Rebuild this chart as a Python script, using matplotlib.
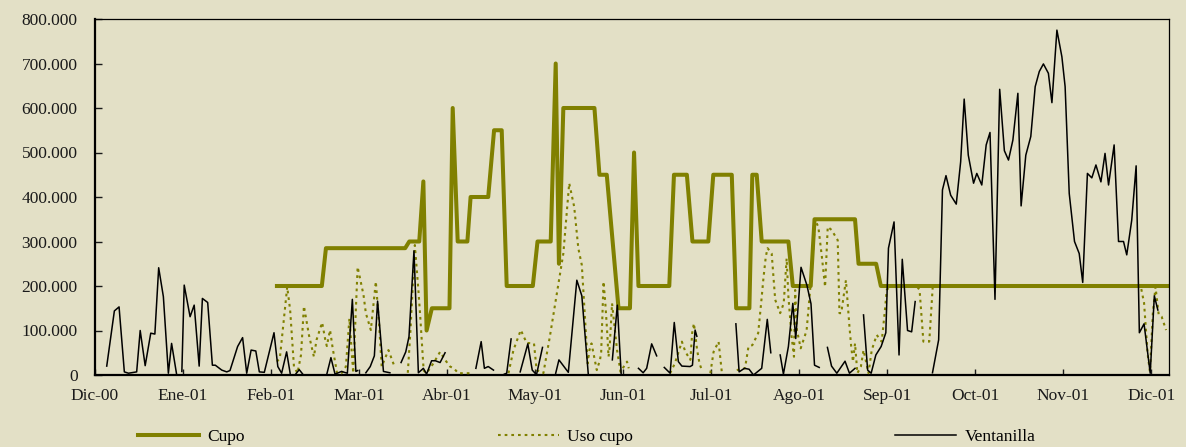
import numpy as np
import matplotlib
matplotlib.use("Agg")
import matplotlib.pyplot as plt
from matplotlib.ticker import FuncFormatter

# x = day index on the category axis (Dic-00 = 0), values in thousands
month_labels = ["Dic-00", "Ene-01", "Feb-01", "Mar-01", "Abr-01", "May-01", "Jun-01",
                "Jul-01", "Ago-01", "Sep-01", "Oct-01", "Nov-01", "Dic-01"]
month_pos = [0, 30, 60, 90, 120, 150, 180, 210, 240, 270, 300, 330, 360]

cupo_x = [62, 77.3, 78.7, 105.7, 107.1, 110.5, 111.9, 113, 114.8, 120.8, 121.9, 123.6, 126.9,
          128, 134, 136, 138.6, 140.3, 149.2, 150.8, 155.3, 157, 158.1, 159.6, 170.2, 171.9,
          174.4, 178.4, 182.3, 183.7, 185.2, 195.7, 197.3, 201.7, 203.6, 209, 210.7, 217,
          218.5, 223, 224, 225.5, 227.2, 236.3, 237.8, 243.9, 245.2, 259, 260.2, 266.2, 267.8, 366]
cupo_y = [200, 200, 285, 285, 300, 300, 435, 100, 150, 150, 600, 300, 300,
          400, 400, 550, 550, 200, 200, 300, 300, 700, 250, 600, 600, 450,
          450, 150, 150, 500, 200, 200, 450, 450, 300, 300, 450, 450,
          150, 150, 450, 450, 300, 300, 200, 200, 350, 350, 250, 250, 200, 200]

uso_x = [62, 63, 65.5, 66.5, 67.8, 69, 70.2, 71.2, 72, 72.9, 74.6, 75.5, 77.4, 78.4, 79, 80.1,
         81, 82.5, 84, 85.5, 86.7, 88, 89.5, 91.5, 92.3, 94, 95.7, 96.8, 97.7, 100, 102, None,
         106.6, 107.5, 109, 110.2, 110.8, 112, 113, 115.3, 117.6, 119.3, 121, 122.3, 123.8, 127.8, None,
         140.9, 142.6, 145.1, 147.1, 149.6, 150.5, 152.8, 155, 157.4, 159.6, 161.6, 163.3, 164.7,
         165.9, 167.1, 167.9, 168.5, 169.2, 171, 172.1, 172.5, 173.3, 173.9, 174.5, 175, 175.4,
         176.2, 177.9, 179.1, 180.5, 181.3, 181.9, None,
         196, 197.6, 200, 201.2, 202.9, 203.5, 204.1, 205.2, 206, 206.8, None,
         209.7, 210.8, 212.5, 213.6, None,
         218.7, 221.5, 222.7, 224, 226, 227, 227.8, 228.6, 229.2, 230.6, 231.8, 233.5, 234.7,
         235.7, 236.3, 237.4, 238.2, 238.6, 239.2, 240.5, 242.5, 244.3, 244.8, 245.4, 246.5,
         247.7, 248.8, 249.7, 251, 253.1, 253.7, 254.3, 255.9, 257.1, 257.7, 258.3, 259, 259.8,
         261, 261.9, 263.6, 264.7, 266.4, 268.1, 269.3, 269.8, 271, 280, 281, 282.3, 284.3,
         285.5, 355, 356.5, 357.5, 358.7, 359.5, 360.5, 361.4, 362.5, 363.5, 365]
uso_y = [30, 38, 198, 146, 19, 4, 45, 155, 124, 90, 41, 79, 118, 82, 65, 101,
         60, 4, 4, 19, 127, 4, 243, 180, 139, 101, 210, 116, 19, 56, 20, None,
         5, 100, 292, 191, 135, 10, 4, 26, 52, 34, 19, 15, 4, 4, None,
         4, 56, 101, 72, 71, 11, 4, 86, 184, 273, 431, 378, 285,
         247, 112, 26, 56, 71, 11, 34, 52, 210, 162, 101, 41, 64,
         161, 56, 7, 22, 30, 15, None,
         4, 26, 75, 52, 34, 94, 116, 56, 26, 11, None,
         4, 52, 75, 7, None,
         11, 15, 64, 67, 94, 161, 218, 266, 285, 273, 169, 139, 161,
         262, 176, 86, 41, 191, 101, 60, 100, 236, 288, 348, 333,
         266, 198, 333, 326, 303, 139, 139, 213, 109, 64, 30, 71, 4,
         19, 56, 4, 56, 90, 75, 153, 191, 200, 200, 191, 75, 75,
         200, 200, 195, 162, 49, 7, 139, 198, 135, 131, 101]

vent_x = [4, 6.6, 8.2, 10, 11.4, 14.2, 15.4, 17.1, 19, 20.4, 21.7, 23.3, 25, 26.1, 27.8, None,
          29.6, 30.4, 32.4, 33.8, 35.5, 36.6, 38.4, 40, 41, 43.2, 44.9, 46, 48.6, 50.3, 51.7,
          53.2, 54.8, 56, 57.7, 61, 62.3, 63.6, 65.3, 66.5, None,
          68.5, 69.6, 70.8, None,
          79, 80.4, 81.8, 84, 86, 87.7, 88.9, 89.5, None,
          92.3, 93.8, 95.2, 96.3, 98.3, 100.5, None,
          104.3, 105.9, 107, 108.7, 110.2, 111.9, 113, 114.7, 116, 117.6, 119.3, None,
          129.8, 131.6, 132.7, 134, 135.8, None,
          139.5, 140.3, 141.8, None,
          144.9, 147.5, 149, 150, None,
          150.5, 152.5, None,
          157, 158.1, 161.3, 164.2, 165.9, 168.1, None,
          176.3, 178, 179.3, None,
          185.2, 186.8, 188, 189.7, 191.4, None,
          194, 196, 197.4, 198.8, 200, 202.8, 203.6, 204.5, 205.1, None,
          218.4, 219.5, 221.3, 222.9, 224.4, 227.2, 229.1, 230.3, None,
          233.5, 234.6, 236.3, 237.8, 238.8, 240.6, 242.6, 244, 245.2, 246.8, None,
          249.6, 251, 252.8, 255.6, 257.1, 259, None,
          261.9, 263.3, 264.5, 266.1, 267.9, 269.5, 270.4, 272.3, 274, 275.1, 276.9, 278.3, 279.5, None,
          285.4, 287.5, 288.8, 290, 291.6, 293.5, 295, 296.2, 297.6, 299.4, 300.5, 302.2, 303.7,
          305, 306.7, 308.3, 309.9, 311.3, 312.8, 314.5, 315.6, 317.2, 318.9, 320.4, 321.8, 323.2,
          324.9, 326.1, 327.8, 329.5, 330.6, 332, 333.8, 335.4, 336.6, 338.2, 339.7, 341.1, 342.8,
          344.2, 345.4, 347.3, 348.8, 350.5, 351.6, 353.3, 354.8, 355.9, 357.5, 359.6, 361, 362.2]
vent_y = [20, 144, 153, 7, 4, 7, 100, 21, 94, 92, 241, 176, 4, 71, 2, None,
          8, 202, 131, 157, 20, 172, 163, 22, 22, 11, 7, 10, 64, 84, 4,
          56, 54, 7, 6, 95, 19, 4, 52, 4, None,
          3, 12, 2, None,
          2, 39, 2, 8, 4, 170, 8, 10, None,
          5, 19, 43, 166, 8, 5, None,
          28, 52, 86, 279, 5, 15, 2, 32, 32, 28, 50, None,
          15, 75, 15, 19, 11, None,
          2, 4, 81, None,
          7, 70, 11, 4, None,
          2, 62, None,
          4, 34, 6, 213, 178, 2, None,
          34, 157, 4, None,
          15, 5, 15, 70, 43, None,
          17, 4, 118, 30, 20, 19, 22, 101, 87, None,
          115, 7, 15, 13, 0, 15, 125, 50, None,
          45, 2, 64, 161, 82, 242, 202, 160, 22, 17, None,
          62, 20, 4, 31, 4, 15, None,
          135, 11, 4, 45, 64, 95, 285, 344, 45, 260, 100, 97, 165, None,
          5, 79, 416, 448, 404, 384, 479, 620, 494, 431, 453, 427, 517,
          545, 170, 642, 504, 483, 528, 633, 380, 494, 536, 648, 682, 699,
          678, 612, 775, 715, 648, 408, 300, 273, 208, 453, 443, 472, 434,
          498, 427, 517, 300, 300, 270, 348, 470, 95, 115, 4, 178, 146]

bg = "#E3E0C6"
olive = "#808000"

plt.rcParams["font.family"] = ["Liberation Serif", "DejaVu Serif"]

fig = plt.figure(figsize=(11.86, 4.47), dpi=100, facecolor=bg)
ax = fig.add_axes([95 / 1186, 72 / 447, 1074 / 1186, 356 / 447], facecolor=bg)

def arr(v):
    return np.array([np.nan if a is None else a for a in v], dtype=float)

l1, = ax.plot(cupo_x, cupo_y, color=olive, lw=2.9, label="Cupo", zorder=2)
l2, = ax.plot(arr(uso_x), arr(uso_y), color=olive, lw=1.5, linestyle=(0, (1.3, 1.9)),
              label="Uso cupo", zorder=3)
l3, = ax.plot(arr(vent_x), arr(vent_y), color="black", lw=1.1, label="Ventanilla", zorder=4)

ax.set_xlim(0, 366)
ax.set_ylim(0, 800)
ax.set_yticks(range(0, 801, 100))
ax.yaxis.set_major_formatter(FuncFormatter(lambda v, p: f"{int(v * 1000):,}".replace(",", ".")))
ax.set_xticks(month_pos)
ax.set_xticklabels(month_labels)
ax.tick_params(axis="y", direction="in", length=5, width=1, pad=12.5, labelsize=12.5, colors="#1a1a1a")
ax.tick_params(axis="x", direction="in", length=4, width=1, pad=9, labelsize=12.5, colors="#1a1a1a")

for side in ["left", "bottom"]:
    ax.spines[side].set_linewidth(1.6)
for side in ["top", "right"]:
    ax.spines[side].set_linewidth(0.9)

# one legend per entry, placed like the original spread-out legend
for handle, x0 in [(l1, 138), (l2, 498), (l3, 895)]:
    fig.legend(handles=[handle], loc="center left", bbox_to_anchor=(x0 / 1186, 10 / 447),
               frameon=False, fontsize=12.5, handlelength=3.5, handletextpad=0.5,
               borderpad=0, borderaxespad=0)

fig.savefig("out.png", dpi=100, facecolor=bg)
